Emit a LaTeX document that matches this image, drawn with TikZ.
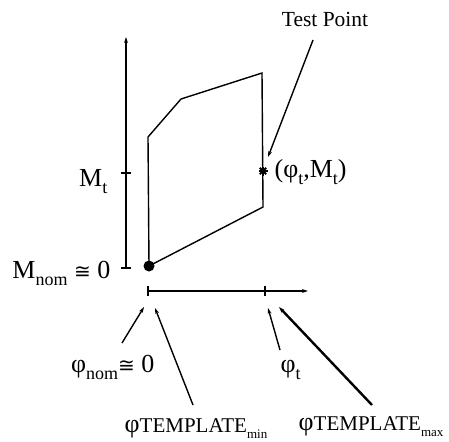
\documentclass[tikz,border=0pt]{standalone}
\usepackage{fontspec}
\setmainfont{Liberation Serif}
\newfontfamily\symfont{DejaVu Sans}
\usetikzlibrary{arrows.meta}
\newcommand{\lowidx}[1]{\raisebox{-0.3em}{\fontsize{18}{18}\selectfont #1}}
\newcommand{\tplidx}[1]{{\fontsize{21}{21}\selectfont TEMPLATE}\raisebox{-0.25em}{\fontsize{13}{13}\selectfont #1}}
\newcommand{\approxeq}{{\symfont\fontsize{20}{20}\selectfont ≅}}

\begin{document}
\begin{tikzpicture}[x=1pt, y=-1pt, line width=1.4pt,
    >={Stealth[length=6pt,width=3.8pt]},
    lbl/.style={inner sep=0pt, font=\fontsize{26}{26}\selectfont},
    pointer/.style={->, line width=1.4pt}]
    \useasboundingbox (0,0) rectangle (449,441);

    % Axes
    \coordinate (mzero) at (126,268);
    \coordinate (mtop) at (126,37);
    \coordinate (pzero) at (148,291);
    \coordinate (pend) at (308,291);
    \draw[->] (mzero) -- (mtop);
    \draw[->] (pzero) -- (pend);
    \foreach \y in {268, 173}
        \draw (121,\y) -- (131,\y);
    \foreach \x in {148, 265}
        \draw (\x,286) -- (\x,296);

    % Template region
    \coordinate (nom) at (149,266);
    \draw (nom) -- (148,137) -- (181,99) -- (262,73) -- (263,207) -- cycle;
    \fill (nom) circle (5.5);

    % Test point
    \coordinate (tstar) at (263,171);
    \foreach \a in {0, 45, 90, 135}
        \draw[line width=1.8pt] (tstar) ++(\a:4.5) -- ++(\a+180:9);

    % Labels
    \node[lbl, anchor=base east] (mtlbl) at (108,186) {M\lowidx{t}};
    \node[lbl, anchor=base east] (mnomlbl) at (111,278) {M\lowidx{nom} \approxeq\ 0};
    \node[lbl, anchor=base west] (tptlbl) at (274,177) {(φ\lowidx{t},M\lowidx{t})};
    \node[inner sep=0pt, font=\fontsize{21.5}{21.5}\selectfont, anchor=base] (testlbl) at (325,27) {Test Point};
    \node[lbl, anchor=base east] (pnomlbl) at (155,372) {φ\lowidx{nom}\approxeq\ 0};
    \node[lbl, anchor=base west] (ptlbl) at (280,372) {φ\lowidx{t}};
    \node[lbl, anchor=base west] (pminlbl) at (124,432) {φ\tplidx{min}};
    \node[lbl, anchor=base west] (pmaxlbl) at (298,430) {φ\tplidx{max}};

    % Pointers
    \coordinate (testtail) at (313,40);
    \coordinate (testhead) at (268,157);
    \coordinate (nomtail) at (122,343);
    \coordinate (nomhead) at (144,307);
    \coordinate (mintail) at (193,405);
    \coordinate (minhead) at (155,308);
    \coordinate (pttail) at (280,350);
    \coordinate (pthead) at (268,308);
    \coordinate (maxtail) at (372,405);
    \coordinate (maxhead) at (279,307);
    \draw[pointer] (testtail) -- (testhead);
    \draw[pointer] (nomtail) -- (nomhead);
    \draw[pointer] (mintail) -- (minhead);
    \draw[pointer] (pttail) -- (pthead);
    \draw[pointer, line width=2.4pt] (maxtail) -- (maxhead);
\end{tikzpicture}
\end{document}
